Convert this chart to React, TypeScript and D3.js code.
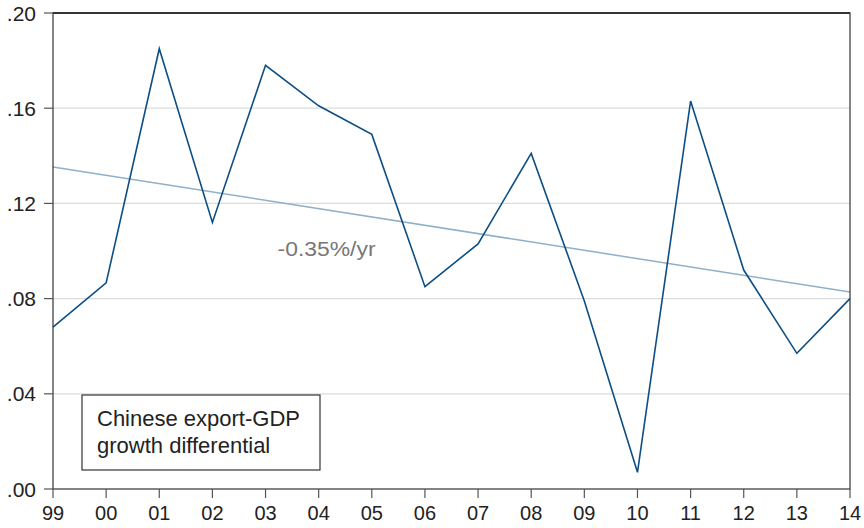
import React from 'react'
import * as d3 from 'd3'

const years = ['99', '00', '01', '02', '03', '04', '05', '06', '07', '08', '09', '10', '11', '12', '13', '14']
const differential = [0.068, 0.0866, 0.185, 0.112, 0.178, 0.161, 0.149, 0.085, 0.103, 0.141, 0.079, 0.007, 0.163, 0.092, 0.057, 0.080]
const trendEnds = [0.1353, 0.0828]
const yTicks = [0, 0.04, 0.08, 0.12, 0.16, 0.2]
const legendLines = ['Chinese export-GDP', 'growth differential']
const trendLabel = '-0.35%/yr'

const width = 864
const height = 528
const margin = { top: 13, right: 14, bottom: 39, left: 53 }

const fmt = (v: number) => d3.format('.2f')(v).replace(/^0/, '')

const App: React.FC = () => {
  const innerW = width - margin.left - margin.right
  const innerH = height - margin.top - margin.bottom

  const x = d3.scalePoint<string>().domain(years).range([0, innerW])
  const y = d3.scaleLinear().domain([0, 0.2]).range([innerH, 0])

  const line = d3.line<number>()
    .x((_, i) => x(years[i]) as number)
    .y(d => y(d))

  const trend = d3.line<number>()
    .x((_, i) => (i === 0 ? x(years[0]) : x(years[years.length - 1])) as number)
    .y(d => y(d))

  const font = '"Liberation Sans", Arial, sans-serif'

  return (
    <svg width={width} height={height} style={{ position: 'absolute', left: 0, top: 0 }} fontFamily={font}>
      <g transform={`translate(${margin.left},${margin.top})`}>
        {yTicks.slice(1, -1).map(t => (
          <line key={t} x1={0} x2={innerW} y1={y(t)} y2={y(t)} stroke="#dcdcdc" strokeWidth={1.2} />
        ))}

        <path d={trend(trendEnds) ?? ''} fill="none" stroke="#8fb0c8" strokeWidth={1.5} />
        <path d={line(differential) ?? ''} fill="none" stroke="#0d4f85" strokeWidth={1.6} />

        <text x={(x('03') as number) + 12} y={y(0.098)} fontSize={20} textLength={98}
          lengthAdjust="spacingAndGlyphs" fill="#777">{trendLabel}</text>

        {/* frame */}
        <rect x={0} y={0} width={innerW} height={innerH} fill="none" stroke="#333" strokeWidth={1.2} />
        <line x1={0} x2={innerW} y1={0} y2={0} stroke="#333" strokeWidth={2} />

        {/* y axis */}
        {yTicks.map(t => (
          <g key={t} transform={`translate(0,${y(t)})`}>
            <line x1={-9} x2={0} stroke="#555" strokeWidth={1.2} />
            <text x={-17} dy="0.36em" textAnchor="end" fontSize={21} fill="#222">{fmt(t)}</text>
          </g>
        ))}

        {/* x axis */}
        {years.map(yr => (
          <g key={yr} transform={`translate(${x(yr)},${innerH})`}>
            <line y1={0} y2={9} stroke="#555" strokeWidth={1.2} />
            <text y={31} textAnchor="middle" fontSize={20} fill="#222">{yr}</text>
          </g>
        ))}

        {/* legend */}
        <g transform={`translate(${82 - margin.left},${395 - margin.top})`}>
          <rect x={0} y={0} width={238} height={75} fill="#fff" stroke="#333" strokeWidth={1.2} />
          {legendLines.map((l, i) => (
            <text key={l} x={15} y={31 + i * 27} fontSize={22} fill="#222">{l}</text>
          ))}
        </g>
      </g>
    </svg>
  )
}

export default App
